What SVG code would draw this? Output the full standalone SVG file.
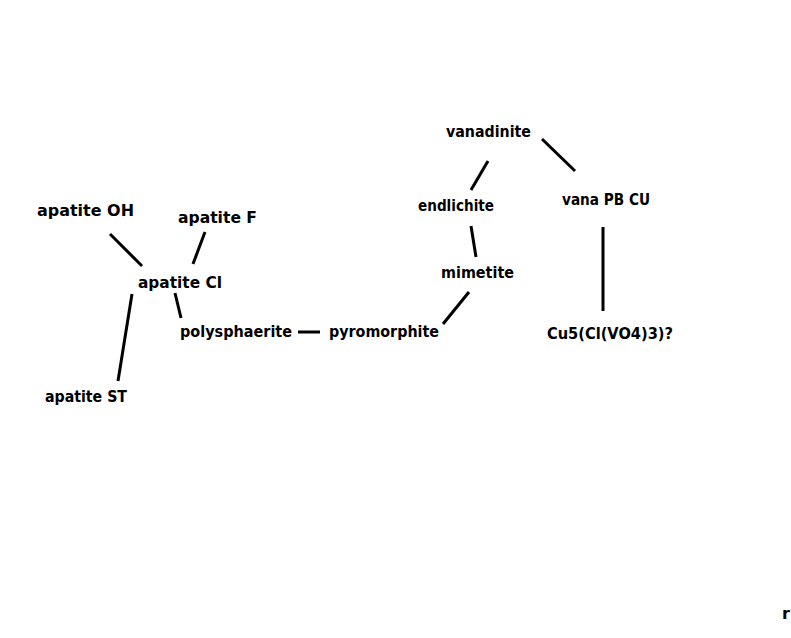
<svg xmlns="http://www.w3.org/2000/svg" width="791" height="638" viewBox="0 0 791 638">
<style>
.lbl{font-family:"DejaVu Sans","Liberation Sans",sans-serif;font-weight:bold;font-size:16px;fill:#000}
.edge{stroke:#000;stroke-width:3;stroke-linecap:butt;fill:none}
</style>
<rect width="791" height="638" fill="#fff"/>
<g id="connectors">
<line class="edge" x1="110" y1="234" x2="142" y2="266"/>
<line class="edge" x1="205" y1="232" x2="193" y2="264"/>
<line class="edge" x1="132" y1="294" x2="118" y2="381"/>
<line class="edge" x1="175" y1="293" x2="181" y2="318"/>
<line class="edge" x1="298" y1="332" x2="320" y2="332"/>
<line class="edge" x1="443" y1="324" x2="469" y2="292"/>
<line class="edge" x1="471" y1="226" x2="476" y2="257"/>
<line class="edge" x1="471" y1="190" x2="488" y2="161"/>
<line class="edge" x1="542" y1="139" x2="575" y2="171"/>
<line class="edge" x1="603" y1="227" x2="603" y2="311"/>
</g>
<g id="apatite-OH"><text class="lbl" x="37" y="216" textLength="97" lengthAdjust="spacingAndGlyphs">apatite OH</text></g>
<g id="apatite-F"><text class="lbl" x="178" y="223" textLength="79" lengthAdjust="spacingAndGlyphs">apatite F</text></g>
<g id="apatite-Cl"><text class="lbl" x="138" y="288" textLength="84" lengthAdjust="spacingAndGlyphs">apatite Cl</text></g>
<g id="apatite-ST"><text class="lbl" x="45" y="402" textLength="82" lengthAdjust="spacingAndGlyphs">apatite ST</text></g>
<g id="polysphaerite"><text class="lbl" x="180" y="337" textLength="112" lengthAdjust="spacingAndGlyphs">polysphaerite</text></g>
<g id="pyromorphite"><text class="lbl" x="329" y="337" textLength="110" lengthAdjust="spacingAndGlyphs">pyromorphite</text></g>
<g id="mimetite"><text class="lbl" x="441" y="278" textLength="73" lengthAdjust="spacingAndGlyphs">mimetite</text></g>
<g id="endlichite"><text class="lbl" x="418" y="211" textLength="76" lengthAdjust="spacingAndGlyphs">endlichite</text></g>
<g id="vanadinite"><text class="lbl" x="446" y="137" textLength="85" lengthAdjust="spacingAndGlyphs">vanadinite</text></g>
<g id="vana-PB-CU"><text class="lbl" x="562" y="205" textLength="88" lengthAdjust="spacingAndGlyphs">vana PB CU</text></g>
<g id="cu5"><text class="lbl" x="547" y="339" textLength="126" lengthAdjust="spacingAndGlyphs">Cu5(Cl(VO4)3)?</text></g>
<g id="edge-text"><text class="lbl" x="782" y="619">r</text></g>
</svg>
